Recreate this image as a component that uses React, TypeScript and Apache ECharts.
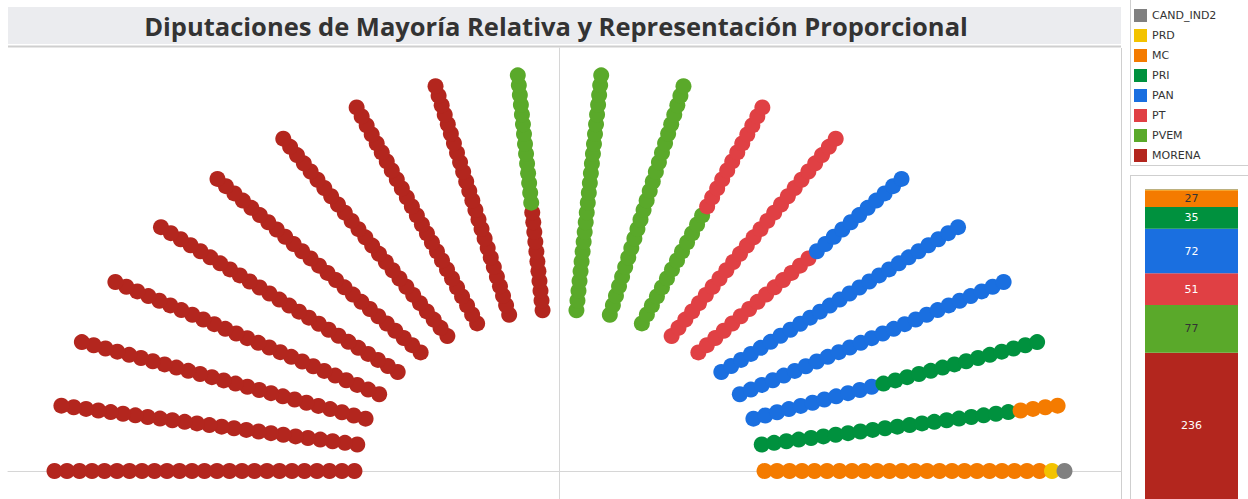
import React, { useEffect, useRef } from "react";
import * as echarts from "echarts";

const parties = ["MORENA", "PVEM", "PT", "PAN", "PRI", "MC", "PRD", "CAND_IND2"];
const seats = [236, 77, 51, 72, 35, 27, 1, 1];
const colors = ["#b3261e", "#5aa92a", "#e04044", "#1a6fe0", "#00913e", "#f47b00", "#f3c300", "#808080"];
const darkLabelParties = ["MC", "PVEM"];
const legendOrder = ["CAND_IND2", "PRD", "MC", "PRI", "PAN", "PT", "PVEM", "MORENA"];
const titleText = "Diputaciones de Mayoría Relativa y Representación Proporcional";

const RAYS = 20;
const PER_RAY = 25;
const R_INNER = 0.406;
const R_OUTER = 1.0;

function seatPositions(): number[][][] {
  const out: number[][][] = parties.map(() => []);
  let k = 0;
  parties.forEach((p, pi) => {
    for (let s = 0; s < seats[pi]; s++) {
      const ray = Math.floor(k / PER_RAY);
      const pos = k % PER_RAY;
      const ang = Math.PI - (ray * Math.PI) / (RAYS - 1);
      const r = R_INNER + (pos * (R_OUTER - R_INNER)) / (PER_RAY - 1);
      out[pi].push([r * Math.cos(ang), r * Math.sin(ang)]);
      k++;
    }
  });
  return out;
}

export default function App() {
  const ref = useRef<HTMLDivElement>(null);
  useEffect(() => {
    if (!ref.current) return;
    const chart = echarts.init(ref.current, null, { renderer: "svg" });
    const pos = seatPositions();
    const cx = 559.5;
    const sx = 505;
    const cy = 471;
    const sy = 397;
    const gl = 8, gr = 1121, gt = 48, gb = 499;
    const series: any[] = [];
    parties.forEach((p, i) => {
      series.push({
        name: p,
        type: "scatter",
        xAxisIndex: 0,
        yAxisIndex: 0,
        symbol: "circle",
        symbolSize: 16,
        itemStyle: { color: colors[i], opacity: 1 },
        data: pos[i],
        z: 3,
      });
    });
    parties.forEach((p, i) => {
      series.push({
        name: p,
        type: "bar",
        xAxisIndex: 1,
        yAxisIndex: 1,
        stack: "total",
        barWidth: "100%",
        itemStyle: { color: colors[i] },
        label: {
          show: seats[i] > 1,
          position: "inside",
          fontSize: 11,
          fontFamily: "Tahoma, 'DejaVu Sans', sans-serif",
          color: darkLabelParties.includes(p) ? "#333" : "#ffffff",
        },
        data: [seats[i]],
      });
    });
    const border = "#cfcfcf";
    chart.setOption({
      animation: false,
      grid: [
        { left: gl, top: gt, width: gr - gl, height: gb - gt },
        { left: 1145, top: 189, width: 93, height: 311 },
      ],
      xAxis: [
        {
          type: "value",
          gridIndex: 0,
          min: -(cx - gl) / sx,
          max: (gr - cx) / sx,
          axisLine: { show: true, onZero: true, lineStyle: { color: "#d6d6d6", width: 1 } },
          axisTick: { show: false },
          axisLabel: { show: false },
          splitLine: { show: false },
        },
        {
          type: "category",
          gridIndex: 1,
          data: ["Total"],
          show: false,
        },
      ],
      yAxis: [
        {
          type: "value",
          gridIndex: 0,
          min: -(gb - cy) / sy,
          max: (cy - gt) / sy,
          axisLine: { show: true, onZero: true, lineStyle: { color: "#d6d6d6", width: 1 } },
          axisTick: { show: false },
          axisLabel: { show: false },
          splitLine: { show: false },
        },
        {
          type: "value",
          gridIndex: 1,
          min: 0,
          max: 500,
          show: false,
        },
      ],
      legend: {
        data: legendOrder,
        orient: "vertical",
        left: 1134,
        top: 9,
        padding: 0,
        itemWidth: 13,
        itemHeight: 13,
        itemGap: 7,
        icon: "rect",
        selectedMode: false,
        textStyle: { fontSize: 11, color: "#333", fontFamily: "Tahoma, 'DejaVu Sans', sans-serif" },
      },
      graphic: [
        { type: "rect", shape: { x: 8, y: 7, width: gr - 8, height: 37 }, style: { fill: "#ebecef" }, z: 0 },
        { type: "line", shape: { x1: 8, y1: 46.5, x2: gr, y2: 46.5 }, style: { stroke: border, lineWidth: 2 } },
        { type: "line", shape: { x1: gr + 0.5, y1: 48, x2: gr + 0.5, y2: 499 }, style: { stroke: border, lineWidth: 1 } },
        { type: "line", shape: { x1: 1130.5, y1: 0, x2: 1130.5, y2: 165 }, style: { stroke: border, lineWidth: 1 } },
        { type: "line", shape: { x1: 1130, y1: 165.5, x2: 1248, y2: 165.5 }, style: { stroke: border, lineWidth: 1 } },
        { type: "line", shape: { x1: 1130.5, y1: 175, x2: 1130.5, y2: 499 }, style: { stroke: border, lineWidth: 1 } },
        { type: "line", shape: { x1: 1130, y1: 175.5, x2: 1248, y2: 175.5 }, style: { stroke: border, lineWidth: 1 } },
        {
          type: "text",
          x: 556,
          y: 26,
          style: {
            text: titleText,
            fill: "#333333",
            font: "bold 25.5px 'Open Sans', sans-serif",
            textAlign: "center",
            textVerticalAlign: "middle",
          },
          z: 5,
        },
      ],
      series,
    });
    return () => chart.dispose();
  }, []);
  return (
    <div
      ref={ref}
      style={{ position: "fixed", left: 0, top: 0, width: 1248, height: 499, background: "#fff" }}
    />
  );
}
